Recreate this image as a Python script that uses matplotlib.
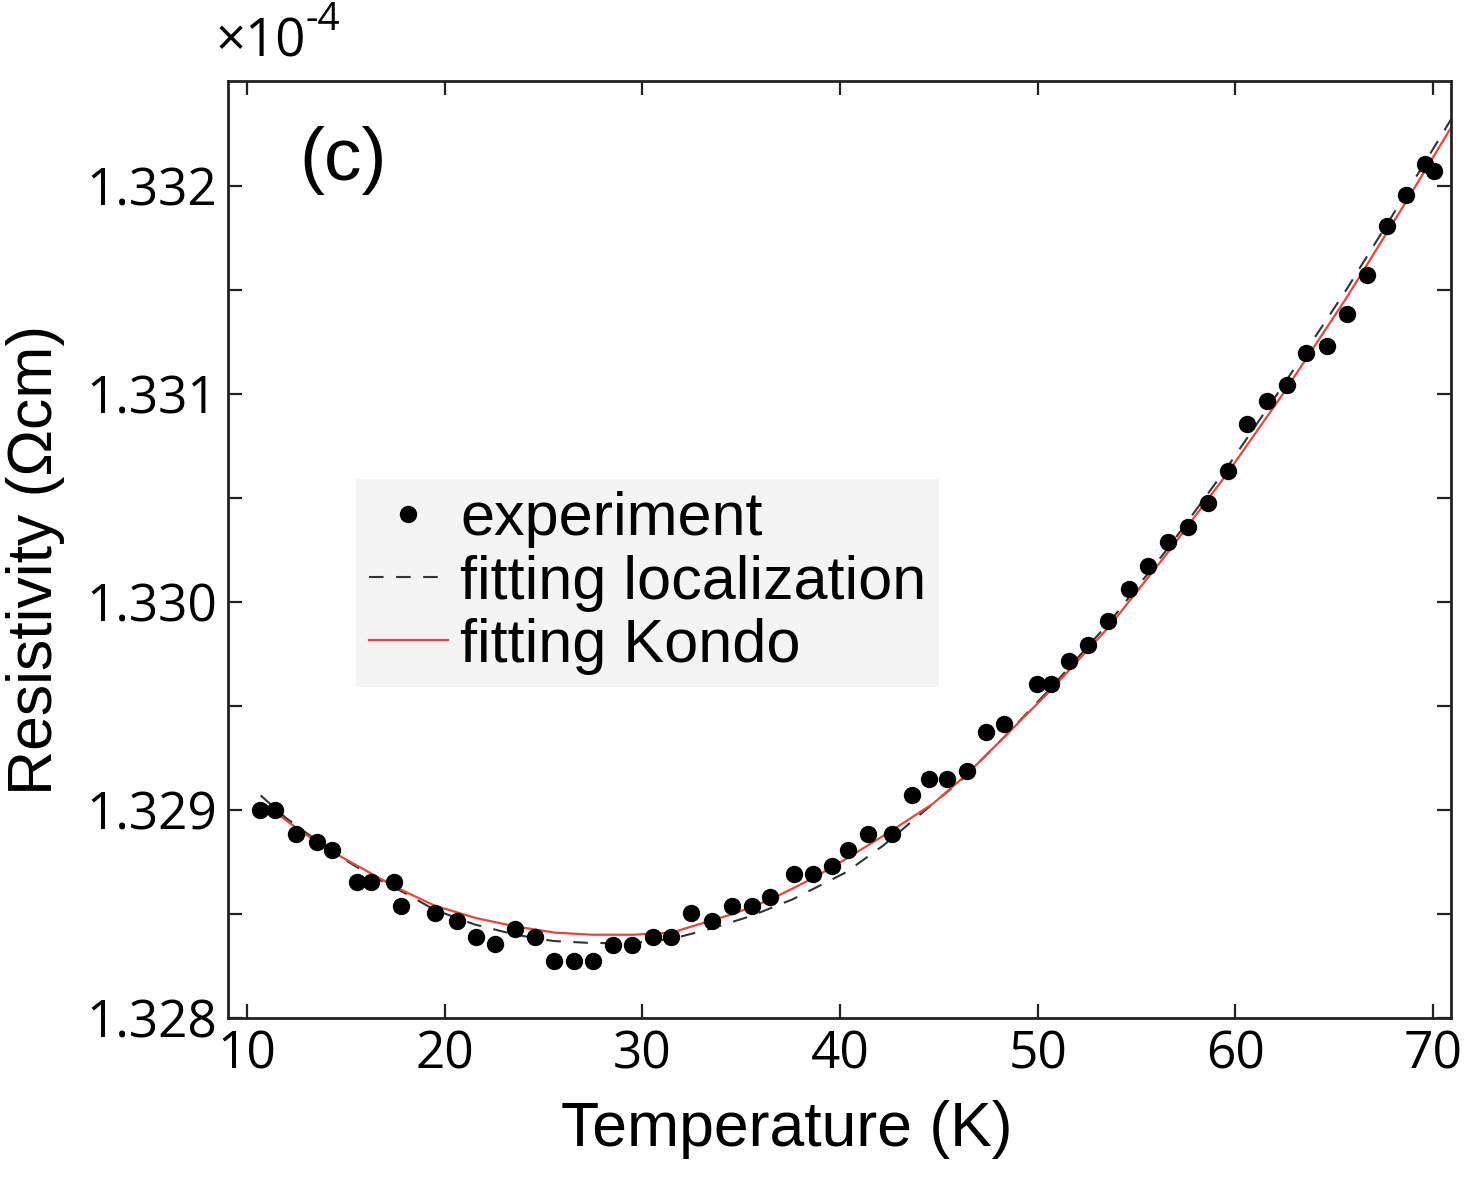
import numpy as np
import matplotlib
matplotlib.use("Agg")
import matplotlib.pyplot as plt
from matplotlib import font_manager

# experiment points (T in K, resistivity in 1e-4 Ohm cm)
temp_exp = [10.66, 11.42, 12.48, 13.56, 14.32, 15.55, 16.26, 17.45, 17.82, 19.54,
            20.61, 21.57, 22.53, 23.56, 24.57, 25.56, 26.56, 27.52, 28.53, 29.49,
            30.52, 31.48, 32.49, 33.51, 34.52, 35.53, 36.45, 37.68, 38.64, 39.62,
            40.41, 41.43, 42.64, 43.65, 44.51, 45.39, 46.44, 47.41, 48.31, 49.95,
            50.65, 51.58, 52.56, 53.57, 54.61, 55.59, 56.57, 57.61, 58.59, 59.64,
            60.60, 61.58, 62.59, 63.57, 64.61, 65.62, 66.64, 67.65, 68.62, 69.59,
            70.04]
rho_exp = [1.32900, 1.32900, 1.328885, 1.328845, 1.328807, 1.328654, 1.328654, 1.328654, 1.328540, 1.328505,
           1.328468, 1.328390, 1.328354, 1.328427, 1.328390, 1.328273, 1.328273, 1.328273, 1.328351, 1.328351,
           1.328390, 1.328390, 1.328503, 1.328468, 1.328540, 1.328540, 1.328581, 1.328691, 1.328691, 1.328731,
           1.328807, 1.328883, 1.328883, 1.329074, 1.329147, 1.329147, 1.329188, 1.329377, 1.329414, 1.329605,
           1.329605, 1.329717, 1.329795, 1.329908, 1.330062, 1.330171, 1.330288, 1.330361, 1.330474, 1.330628,
           1.330854, 1.330967, 1.331045, 1.331198, 1.331233, 1.331385, 1.331574, 1.331806, 1.331955, 1.332108,
           1.332071]

# fitting curves
temp_loc = [10.7, 12.0, 14.3, 16.0, 18.0, 19.5, 21.5, 23.6, 25.5, 27.5, 29.5, 31.5, 33.5, 35.5,
            37.6, 40.3, 42.2, 44.2, 46.1, 48.3, 50.6, 53.6, 56.6, 59.6, 62.4, 65.6, 68.6, 70.9]
rho_loc = [1.32907, 1.32896, 1.32880, 1.32870, 1.32860, 1.32852, 1.32845, 1.32840, 1.32837, 1.32836,
           1.32836, 1.32838, 1.32843, 1.32849, 1.32857, 1.32870, 1.32883, 1.32899, 1.32914, 1.32935,
           1.32958, 1.32990, 1.33026, 1.33065, 1.33104, 1.33150, 1.33196, 1.33232]

temp_kondo = [11.0, 12.7, 14.3, 16.0, 17.5, 19.5, 21.6, 23.6, 25.6, 27.5, 29.5, 31.5, 32.5, 34.6,
              36.5, 38.6, 40.4, 42.6, 44.7, 46.4, 48.3, 50.6, 53.6, 56.6, 59.6, 62.4, 65.6, 68.6, 70.9]
rho_kondo = [1.32902, 1.32890, 1.32880, 1.32871, 1.32863, 1.32854, 1.32848, 1.32844, 1.32841, 1.32840,
             1.32840, 1.32841, 1.32844, 1.32850, 1.32857, 1.32867, 1.32877, 1.32890, 1.32903, 1.32917,
             1.32935, 1.32957, 1.32988, 1.33024, 1.33062, 1.33100, 1.33146, 1.33192, 1.33228]

x_ticks = [10, 20, 30, 40, 50, 60, 70]
y_ticks = [1.328, 1.3285, 1.329, 1.3295, 1.330, 1.3305, 1.331, 1.3315, 1.332]
y_labels = ["1.328", "", "1.329", "", "1.330", "", "1.331", "", "1.332"]

installed = {f.name for f in font_manager.fontManager.ttflist}
tick_font = "Liberation Sans Narrow" if "Liberation Sans Narrow" in installed else "Open Sans"
label_font = "Liberation Sans"

fig = plt.figure(figsize=(14.68, 11.79), dpi=100)
ax = fig.add_axes([0.1553, 0.1366, 0.8331, 0.7947])

ax.plot(temp_exp, rho_exp, "o", color="black", markersize=11.5, label="experiment", zorder=3)
ax.plot(temp_loc, rho_loc, color="#333333", lw=1.5, dashes=(7, 6), label="fitting localization")
ax.plot(temp_kondo, rho_kondo, color="#e8453c", lw=1.6, label="fitting Kondo")

ax.set_xlim(9.05, 70.9)
ax.set_ylim(1.328, 1.332505)
ax.set_xticks(x_ticks)
ax.set_xticklabels([str(t) for t in x_ticks], fontfamily=tick_font, fontsize=37)
ax.set_yticks(y_ticks)
ax.set_yticklabels(y_labels, fontfamily=tick_font, fontsize=37)
ax.tick_params(direction="in", length=10, width=1.6, top=True, right=True, colors="#222222",
               labelcolor="black")
ax.tick_params(axis="x", pad=8)
ax.tick_params(axis="y", pad=8)
for s in ax.spines.values():
    s.set_linewidth(2.0)
    s.set_color("#222222")

ax.set_xlabel("Temperature (K)", fontfamily=label_font, fontsize=45)
ax.set_ylabel("Resistivity (\u03a9cm)", fontfamily=label_font, fontsize=45)
ax.xaxis.set_label_coords(0.457, -0.088)
ax.yaxis.set_label_coords(-0.133, 0.489)

ax.text(0.094, 0.915, "(c)", transform=ax.transAxes, fontfamily=label_font,
        fontsize=54, ha="center", va="center")
ax.text(-0.01, 1.012, "\u00d710", transform=ax.transAxes, fontfamily=tick_font,
        fontsize=38, ha="left", va="bottom")
ax.text(0.063, 1.045, "-4", transform=ax.transAxes, fontfamily=tick_font,
        fontsize=28, ha="left", va="bottom")

leg = ax.legend(loc="upper left", bbox_to_anchor=(0.105, 0.575), prop={"family": label_font, "size": 44},
                frameon=True, facecolor="#f4f4f4", edgecolor="none", framealpha=1,
                handlelength=1.3, handletextpad=0.2, labelspacing=0.1, borderpad=0.2,
                borderaxespad=0, fancybox=False)

fig.savefig("out.png", dpi=100)
